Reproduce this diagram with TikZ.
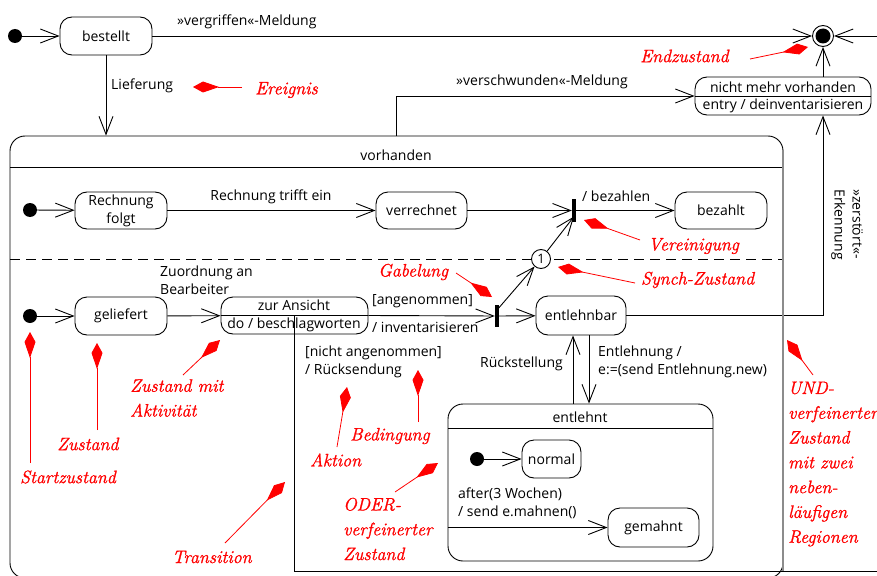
\documentclass[tikz,border=0pt]{standalone}
\usepackage{fontspec}
\setmainfont{Open Sans}
\newfontfamily\notefont[FakeBold=1.2]{Latin Modern Roman}
\usetikzlibrary{arrows.meta,calc}
\definecolor{annred}{RGB}{255,0,0}
\definecolor{edgegray}{RGB}{140,140,140}

\begin{document}
\begin{tikzpicture}[x=1pt,y=-1pt,
  every node/.style={font=\fontsize{14}{18}\selectfont, inner sep=0pt},
  state/.style={draw, rounded corners=12pt, line width=0.9pt, minimum width=92pt,
    minimum height=37pt, align=center},
  trans/.style={line width=0.9pt, -{Straight Barb[length=18pt,width=14pt]}},
  plain/.style={line width=0.9pt},
  startdot/.style={circle, fill, minimum size=14pt},
  bar/.style={fill, minimum width=4pt},
  note/.style={text=annred, font=\notefont\itshape\fontsize{18}{24.8}\selectfont,
    align=left, anchor=west},
  ptr/.style={draw=annred, line width=0.8pt, -{Kite[length=26pt,width=11pt,inset=16pt]}},
]
\useasboundingbox (0,0) rectangle (877,575);

% ---------- top level ----------
\node[startdot] (i0) at (15,36) {};
\node[state, minimum height=38pt] (bestellt) at (106,36) {bestellt};
\node[circle, draw, line width=0.9pt, minimum size=21pt] (fin) at (823,36) {};
\fill (fin) circle (7.5pt);
\coordinate (finR) at (880,36);

\node[state, minimum width=176pt, minimum height=38pt] (gone) at (783,96) {};
\draw[plain] (gone.west) -- (gone.east);
\node at (783,87) {nicht mehr vorhanden};
\node at (783,105.5) {entry / deinventarisieren};

\draw[trans] (i0) -- (bestellt);
\draw[trans] (bestellt) -- (fin);
\draw[trans] (finR) -- (fin);
\draw[trans] (gone.north -| fin) -- (fin);
\node[anchor=west] at (177,22) {»vergriffen«-Meldung};

% ---------- composite state "vorhanden" ----------
\node[draw, rounded corners=15pt, line width=0.9pt, minimum width=773pt,
  minimum height=442pt] (vorh) at (396.5,357) {};
\draw[plain] (10,167) -- (783,167);
\node at (396,155) {vorhanden};
\draw[plain, dash pattern=on 10pt off 6pt] (10,259) -- (783,259);

\draw[trans] (bestellt) -- (bestellt |- vorh.north);
\node[anchor=west] at (111,86) {Lieferung};

\coordinate (vsrc) at (396,136);
\draw[trans] (vsrc) |- (gone.west);
\node[anchor=west] at (456,82) {»verschwunden«-Meldung};

% region 1
\node[startdot] (i1) at (30,210) {};
\node[state] (rf) at (121,210.5) {Rechnung\\folgt};
\node[state, minimum width=91pt] (verr) at (421.5,210.5) {verrechnet};
\node[bar, minimum height=23pt] (join) at (574,210.5) {};
\node[state] (bez) at (721,210.5) {bezahlt};
\draw[trans] (i1) -- (rf);
\draw[trans] (rf) -- (verr);
\draw[trans] (verr) -- (join);
\draw[trans] (join) -- (bez);
\node at (271,197) {Rechnung trifft ein};
\node[anchor=west] at (582,196) {/ bezahlen};

% region 2
\node[startdot] (i2) at (30,316) {};
\node[state, minimum height=38pt] (gel) at (121,316) {geliefert};
\node[state, minimum width=147pt] (ans) at (294.5,315.5) {};
\draw[plain] (ans.west) -- (ans.east);
\node at (294,305) {zur Ansicht};
\node at (294,325) {do / beschlagworten};
\node[bar, minimum height=22pt] (fork) at (497,316) {};
\node[circle, draw, fill=white, line width=0.9pt, minimum size=19pt,
  font=\fontsize{13}{13}\selectfont] (sync) at (541,259) {1};
\node[state, minimum width=90pt, minimum height=39pt] (entb) at (581,315.5) {entlehnbar};

\draw[trans] (i2) -- (gel);
\draw[trans] (gel) -- (ans);
\draw[trans] (ans.east) -- (fork);
\draw[trans] (fork) -- (entb);
\draw[trans] ($(fork)+(0,-6)$) -- (sync);
\draw[trans] (sync) -- ($(join)+(0,6)$);
\draw[trans] (entb) -| (gone.south -| fin);

\node[anchor=west, align=left] at (160,280) {Zuordnung an\\Bearbeiter};
\node[anchor=west] at (372,301) {[angenommen]};
\node[anchor=west] at (372,327) {/ inventarisieren};
\node[rotate=-90, align=left] at (847,224.5) {»zerstört«-\\Erkennung};

\coordinate (edgeR) at (880,571);
\draw[plain] (ans.center) -- (ans.center |- edgeR) -- (edgeR);
\node[anchor=west, align=left] at (305,362) {[nicht angenommen]\\/ Rücksendung};

% nested state "entlehnt"
\node[draw, rounded corners=15pt, line width=0.9pt, minimum width=265pt,
  minimum height=157pt] (entl) at (580.5,482.5) {};
\draw[plain] (448,428) -- (713,428);
\node at (580,417) {entlehnt};
\node[startdot] (i3) at (477,459) {};
\node[state, minimum width=59pt, minimum height=38pt] (normal) at (551.5,459) {normal};
\node[state, minimum width=91pt, minimum height=39pt] (gem) at (653.5,527.5) {gemahnt};
\draw[trans] (i3) -- (normal);
\draw[trans] (entl.west |- gem) -- (gem);
\node[anchor=west, align=left] at (458,503) {after(3 Wochen)\\/ send e.mahnen()};

\coordinate (rL) at ($(entb.south)+(-8,0)$);
\coordinate (rR) at ($(entb.south)+(8,0)$);
\draw[trans] (rL |- entl.north) -- (rL);
\draw[trans] (rR) -- (rR |- entl.north);
\node[anchor=east] at (563,364) {Rückstellung};
\node[anchor=west, align=left] at (598,362) {Entlehnung /\\e:=(send Entlehnung.new)};

% right border of the AND state
\draw[edgegray, line width=2pt] (783,150) -- (783,571);

% ---------- annotations ----------
\node[note] at (255,90) {Ereignis};
\coordinate (a1t) at (242,87); \coordinate (a1h) at (193,87);
\draw[ptr] (a1t) -- (a1h);

\node[note] at (640,56) {Endzustand};
\coordinate (a2t) at (750,59); \coordinate (a2h) at (808,47);
\draw[ptr] (a2t) -- (a2h);

\node[note] at (648,246) {Vereinigung};
\coordinate (a3t) at (640,240); \coordinate (a3h) at (584,220);
\draw[ptr] (a3t) -- (a3h);

\node[note] at (641,280) {Synch-Zustand};
\coordinate (a4t) at (635,283); \coordinate (a4h) at (558,267);
\draw[ptr] (a4t) -- (a4h);

\node[note] at (378,272) {Gabelung};
\coordinate (a5t) at (456,273); \coordinate (a5h) at (492,297);
\draw[ptr] (a5t) -- (a5h);

\node[note] at (20,477) {Startzustand};
\coordinate (a6t) at (30,463); \coordinate (a6h) at (30,332);
\draw[ptr] (a6t) -- (a6h);

\node[note] at (57,444) {Zustand};
\coordinate (a7t) at (97,430); \coordinate (a7h) at (97,343);
\draw[ptr] (a7t) -- (a7h);

\node[note] at (130,398) {Zustand mit\\Aktivität};
\coordinate (a8t) at (183,375); \coordinate (a8h) at (220,340);
\draw[ptr] (a8t) -- (a8h);

\node[note] at (172,557) {Transition};
\coordinate (a9t) at (225,543); \coordinate (a9h) at (285,482);
\draw[ptr] (a9t) -- (a9h);

\node[note] at (310,460) {Aktion};
\coordinate (a10t) at (337,447); \coordinate (a10h) at (347,387);
\draw[ptr] (a10t) -- (a10h);

\node[note] at (350,436) {Bedingung};
\coordinate (a11t) at (418,422); \coordinate (a11h) at (418,370);
\draw[ptr] (a11t) -- (a11h);

\node[note] at (343,529) {ODER-\\verfeinerter\\Zustand};
\coordinate (a12t) at (395,492); \coordinate (a12h) at (438,463);
\draw[ptr] (a12t) -- (a12h);

\node[note] at (788,464) {UND-\\verfeinerter\\Zustand\\mit zwei\\neben-\\läufigen\\Regionen};
\coordinate (a13t) at (813,375); \coordinate (a13h) at (787,340);
\draw[ptr] (a13t) -- (a13h);
\end{tikzpicture}
\end{document}
